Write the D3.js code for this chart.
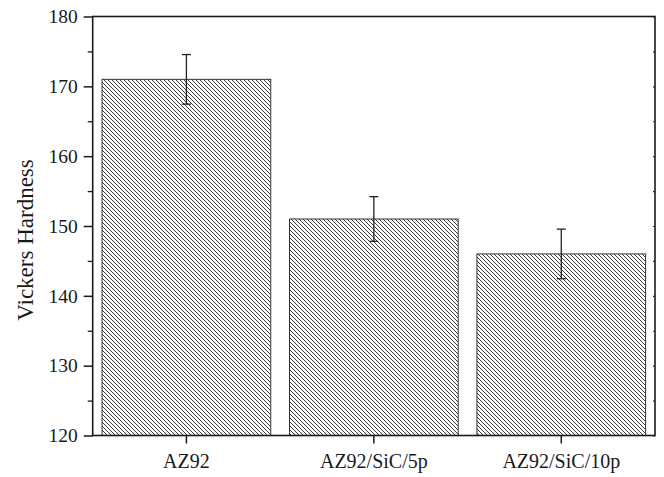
<!DOCTYPE html>
<html><head><meta charset="utf-8">
<script src="https://cdn.jsdelivr.net/npm/d3@7"></script>
<style>
html,body{margin:0;padding:0;background:#fff;}
text{font-family:"Liberation Serif","Times New Roman",serif;fill:#1a1a1a;}
</style></head>
<body><svg id="c" width="664" height="477"></svg>
<script>
const categories = ["AZ92", "AZ92/SiC/5p", "AZ92/SiC/10p"];
const hardness = [171, 151, 146];
const errors = [3.55, 3.2, 3.55];
const yTicks = [120, 130, 140, 150, 160, 170, 180];
const yMinorTicks = [125, 135, 145, 155, 165, 175];
const yLabel = "Vickers Hardness";

const L = 92.7, R = 655, T = 16.5, B = 435.5;
const svg = d3.select("#c");

const x = d3.scaleBand().domain(categories).range([L, R]).paddingInner(0.1).paddingOuter(0.05);
const y = d3.scaleLinear().domain([120, 180]).range([B, T]);

const defs = svg.append("defs");
const pat = defs.append("pattern").attr("id", "hatch").attr("patternUnits", "userSpaceOnUse")
  .attr("width", 4).attr("height", 4);
pat.append("rect").attr("width", 4).attr("height", 4).attr("fill", "#fff");
pat.append("path").attr("d", "M-1,-1 L5,5 M-1,3 L1,5 M3,-1 L5,1")
  .attr("stroke", "#3a3a3a").attr("stroke-width", 1);

const data = categories.map((c, i) => ({c, v: hardness[i], e: errors[i]}));

svg.selectAll("rect.bar").data(data).enter().append("rect").attr("class", "bar")
  .attr("x", d => x(d.c)).attr("width", x.bandwidth())
  .attr("y", d => y(d.v)).attr("height", d => y(120) - y(d.v))
  .attr("fill", "url(#hatch)").attr("stroke", "#333").attr("stroke-width", 1);

// error bars
const eg = svg.append("g").attr("stroke", "#222").attr("stroke-width", 1.3);
data.forEach(d => {
  const cx = x(d.c) + x.bandwidth() / 2;
  eg.append("line").attr("x1", cx).attr("x2", cx).attr("y1", y(d.v + d.e)).attr("y2", y(d.v - d.e));
  eg.append("line").attr("x1", cx - 4.5).attr("x2", cx + 4.5).attr("y1", y(d.v + d.e)).attr("y2", y(d.v + d.e));
  eg.append("line").attr("x1", cx - 4.5).attr("x2", cx + 4.5).attr("y1", y(d.v - d.e)).attr("y2", y(d.v - d.e));
});

// left axis
const yAxis = d3.axisLeft(y).tickValues(yTicks).tickSize(9).tickPadding(6).tickFormat(d3.format("d"));
const ga = svg.append("g").attr("transform", `translate(${L},0)`).call(yAxis);
ga.select(".domain").remove();
ga.selectAll(".tick line").attr("stroke", "#1a1a1a").attr("stroke-width", 1.5);
ga.selectAll(".tick text").attr("font-size", 19.5).attr("fill", "#1a1a1a");
const gm = svg.append("g").attr("transform", `translate(${L},0)`)
  .call(d3.axisLeft(y).tickValues(yMinorTicks).tickSize(5).tickFormat(""));
gm.select(".domain").remove();
gm.selectAll(".tick line").attr("stroke", "#1a1a1a").attr("stroke-width", 1.3);

// right axis tiny inward ticks
const gr = svg.append("g").attr("transform", `translate(${R},0)`)
  .call(d3.axisLeft(y).tickValues(yTicks.concat(yMinorTicks)).tickSize(2).tickFormat(""));
gr.select(".domain").remove();
gr.selectAll(".tick line").attr("stroke", "#333").attr("stroke-width", 1.2);

// bottom axis
const xAxis = d3.axisBottom(x).tickSize(8).tickPadding(10);
const gx = svg.append("g").attr("transform", `translate(0,${B})`).call(xAxis);
gx.select(".domain").remove();
gx.selectAll(".tick line").attr("stroke", "#1a1a1a").attr("stroke-width", 1.5);
gx.selectAll(".tick text").attr("font-size", 20).attr("fill", "#1a1a1a");

// frame
svg.append("rect").attr("x", L).attr("y", T).attr("width", R - L).attr("height", B - T)
  .attr("fill", "none").attr("stroke", "#1a1a1a").attr("stroke-width", 1.6);

// y label
svg.append("text").attr("transform", `translate(33,240) rotate(-90)`)
  .attr("text-anchor", "middle").attr("font-size", 23).text(yLabel);
</script></body></html>
